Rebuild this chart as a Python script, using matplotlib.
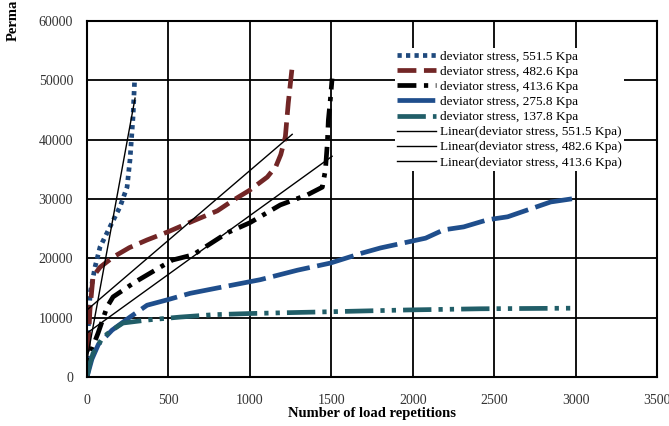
#!/usr/bin/env python3
import matplotlib
matplotlib.use('Agg')
import matplotlib.pyplot as plt

# deviator stress 551.5 Kpa
s551_x = [0, 10, 20, 49, 80, 141, 203, 246, 264, 283, 292]
s551_y = [0, 10000, 14200, 18500, 21900, 25300, 28700, 32000, 36600, 44000, 49800]

# deviator stress 482.6 Kpa
s482_x = [0, 5, 18, 37, 80, 160, 260, 369, 500, 652, 800, 898, 1000, 1107, 1160, 1190, 1218, 1236, 1260]
s482_y = [0, 4000, 11300, 16900, 18500, 20200, 21800, 23100, 24500, 26300, 28000, 29800, 31500, 33700, 35500, 37500,
          40500, 46200, 52300]

# deviator stress 413.6 Kpa
s413_x = [0, 20, 68, 123, 160, 295, 449, 523, 652, 861, 1000, 1187, 1353, 1445, 1464, 1476, 1482, 1494, 1505]
s413_y = [0, 4000, 7400, 11800, 13500, 16000, 18500, 19700, 20600, 24300, 26000, 29000, 30700, 32000, 34900,
          39500, 43300, 46700, 50300]

# deviator stress 275.8 Kpa
s275_x = [0, 30, 70, 154, 264, 369, 492, 633, 800, 1064, 1292, 1494, 1691, 1802, 2079, 2190, 2313, 2460, 2583,
          2847, 3020]
s275_y = [0, 3000, 5500, 7900, 10100, 12100, 13000, 14100, 15000, 16400, 18000, 19200, 20900, 21750, 23400,
          24800, 25300, 26500, 27000, 29500, 30200]

# deviator stress 137.8 Kpa
s137_x = [0, 15, 37, 98, 154, 221, 369, 572, 775, 1000, 1494, 1968, 2417, 3000]
s137_y = [0, 2000, 4000, 6700, 7900, 9100, 9600, 10100, 10500, 10700, 11000, 11300, 11500, 11600]

# linear trend lines (end points)
lin551_x = [0, 295]
lin551_y = [2900, 47000]
lin482_x = [0, 1260]
lin482_y = [11300, 40900]
lin413_x = [0, 1505]
lin413_y = [7400, 37200]

labels = ['deviator stress, 551.5 Kpa', 'deviator stress, 482.6 Kpa', 'deviator stress, 413.6 Kpa',
          'deviator stress, 275.8 Kpa', 'deviator stress, 137.8 Kpa',
          'Linear(deviator stress, 551.5 Kpa)', 'Linear(deviator stress, 482.6 Kpa)',
          'Linear(deviator stress, 413.6 Kpa)']


def main():
    plt.rcParams['font.family'] = ['Liberation Serif', 'DejaVu Serif']
    fig = plt.figure(figsize=(6.69, 4.26), dpi=100)
    ax = fig.add_axes([87 / 669, 49 / 426, 570 / 669, 356 / 426])

    lw = 3.4
    ax.plot(s551_x, s551_y, color='#1f497d', lw=lw, dashes=(0.9, 0.9), label=labels[0])
    ax.plot(s482_x, s482_y, color='#722626', lw=lw, dashes=(4, 1.6), label=labels[1])
    ax.plot(s413_x, s413_y, color='black', lw=lw, dashes=(4, 1.6, 0.9, 1.6), label=labels[2])
    ax.plot(s275_x, s275_y, color='#1f4e8c', lw=lw, dashes=(8, 1.6), label=labels[3])
    ax.plot(s137_x, s137_y, color='#215e68', lw=lw, dashes=(6, 1.5, 0.9, 1.5, 0.9, 1.5), label=labels[4])
    ax.plot(lin551_x, lin551_y, color='black', lw=1.0, label=labels[5])
    ax.plot(lin482_x, lin482_y, color='black', lw=1.0, label=labels[6])
    ax.plot(lin413_x, lin413_y, color='black', lw=1.0, label=labels[7])

    ax.set_xlim(0, 3500)
    ax.set_ylim(0, 60000)
    ax.set_xticks(range(0, 3501, 500))
    ax.set_yticks(range(0, 60001, 10000))
    ax.grid(True, color='black', lw=1.3)
    ax.set_axisbelow(True)
    ax.tick_params(length=0, labelsize=10, colors='#333333')
    ax.tick_params(axis='x', pad=12)
    ax.tick_params(axis='y', pad=10)
    for sp in ax.spines.values():
        sp.set_linewidth(1.5)
        sp.set_color('black')

    ax.set_xlabel('Number of load repetitions', fontsize=10.5, fontweight='bold', labelpad=0)
    fig.text(13 / 669, 1 - 20 / 426, 'Perma', rotation=90, fontsize=10.5, fontweight='bold',
             ha='center', va='center')

    leg = ax.legend(loc='upper left', bbox_to_anchor=(0.54, 0.925), frameon=True, fontsize=9.5,
                    handlelength=2.9, handletextpad=0.3, labelspacing=0.22, borderpad=0.2,
                    borderaxespad=0)
    leg.get_frame().set_linewidth(0)
    leg.get_frame().set_facecolor('white')
    leg.get_frame().set_alpha(1)

    fig.savefig('out.png', dpi=100)


if __name__ == '__main__':
    main()
